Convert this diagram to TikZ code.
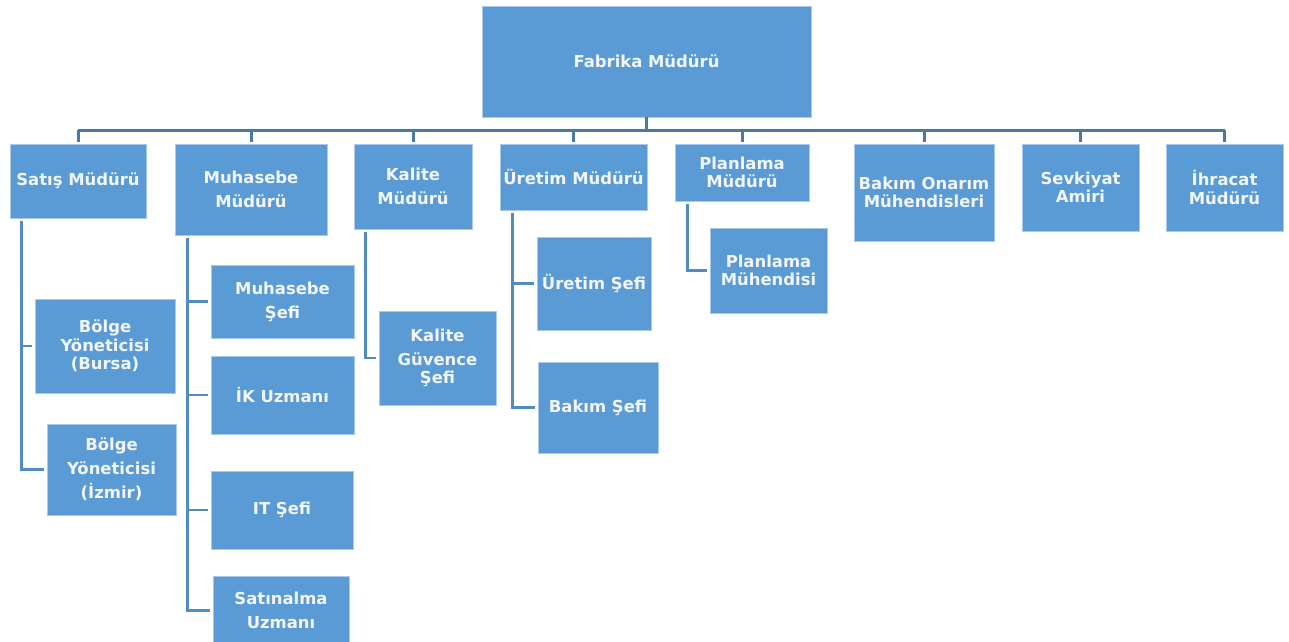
\documentclass[tikz,border=0pt]{standalone}
\usepackage{fontspec}
\setmainfont{DejaVu Sans}
\definecolor{boxfill}{RGB}{91,155,213}
\definecolor{boxedge}{RGB}{170,200,235}
\definecolor{busline}{RGB}{72,122,168}
\definecolor{kidline}{RGB}{82,138,194}
\definecolor{boxtext}{RGB}{242,246,252}
\tikzset{
  box/.style={rectangle, fill=boxfill, draw=boxedge, line width=0.8bp, inner sep=2bp,
    text=boxtext, align=center, font=\fontsize{16.5}{18.5}\selectfont\bfseries},
  widebox/.style={box, font=\fontsize{16.5}{24}\selectfont\bfseries},
  busconn/.style={draw=busline, line width=3bp},
  kidconn/.style={draw=kidline, line width=2.4bp, shorten <=3bp, shorten >=3bp},
}
\newcommand{\bx}[7]{\node[#1, minimum width=#5bp, minimum height=#6bp] (#2) at (#3,#4) {#7};}
\begin{document}
\begin{tikzpicture}[x=1bp,y=-1bp]
\useasboundingbox (0,0) rectangle (1289,642);
% level 0
\bx{box}{fab}{646.5}{61.5}{329}{111}{Fabrika Müdürü}
% level 1
\bx{box}{satis}{78}{181}{136}{74}{Satış Müdürü}
\bx{widebox}{muh}{251}{189.5}{152}{91}{Muhasebe\\Müdürü}
\bx{widebox}{kal}{413}{186.5}{118}{85}{Kalite\\Müdürü}
\bx{box}{uret}{573.5}{177}{147}{66}{Üretim Müdürü}
\bx{box}{plan}{742}{172.5}{134}{57}{Planlama\\Müdürü}
\bx{box}{bakim}{924}{192.5}{140}{97}{Bakım Onarım\\Mühendisleri}
\bx{box}{sevk}{1080.5}{187.5}{117}{87}{Sevkiyat\\Amiri}
\bx{box}{ihr}{1224.5}{187.5}{117}{87}{İhracat\\Müdürü}
% level 2
\bx{box}{bursa}{105}{346}{140}{94}{Bölge\\Yöneticisi\\(Bursa)}
\bx{widebox}{izmir}{111.5}{469.5}{129}{91}{Bölge\\Yöneticisi\\(İzmir)}
\bx{widebox}{muhsef}{282.5}{301.5}{143}{73}{Muhasebe\\Şefi}
\bx{box}{ik}{282.5}{395}{143}{78}{İK Uzmanı}
\bx{box}{it}{282}{510}{142}{78}{IT Şefi}
\bx{widebox}{satin}{281}{610.5}{136}{69}{Satınalma\\Uzmanı}
\bx{box}{kgs}{437.5}{358}{117}{94}{Kalite\\[5.5bp]Güvence\\Şefi}
\bx{box}{usef}{594}{283.5}{114}{93}{Üretim Şefi}
\bx{box}{bsef}{598}{407.5}{120}{91}{Bakım Şefi}
\bx{box}{pmuh}{768.5}{270.5}{117}{85}{Planlama\\Mühendisi}
% bus
\coordinate (bus) at (646.5,130.5);
\draw[busconn] (fab.south) -- (bus);
\draw[busconn] (bus -| satis.north) -- (bus -| ihr.north);
\foreach \n in {satis,muh,kal,uret,plan,bakim,sevk,ihr}
  \draw[busconn, shorten >=2bp] (bus -| \n.north) -- (\n.north);
% children
\draw[kidconn] ([xshift=12bp]satis.south west) |- (bursa.west);
\draw[kidconn] ([xshift=12bp]satis.south west) |- (izmir.west);
\draw[kidconn] ([xshift=13bp]muh.south west) |- (muhsef.west);
\draw[kidconn] ([xshift=13bp]muh.south west) |- (ik.west);
\draw[kidconn] ([xshift=13bp]muh.south west) |- (it.west);
\draw[kidconn] ([xshift=13bp]muh.south west) |- (satin.west);
\draw[kidconn] ([xshift=12bp]kal.south west) |- (kgs.west);
\draw[kidconn] ([xshift=13bp]uret.south west) |- (usef.west);
\draw[kidconn] ([xshift=13bp]uret.south west) |- (bsef.west);
\draw[kidconn] ([xshift=13bp]plan.south west) |- (pmuh.west);
\end{tikzpicture}
\end{document}
